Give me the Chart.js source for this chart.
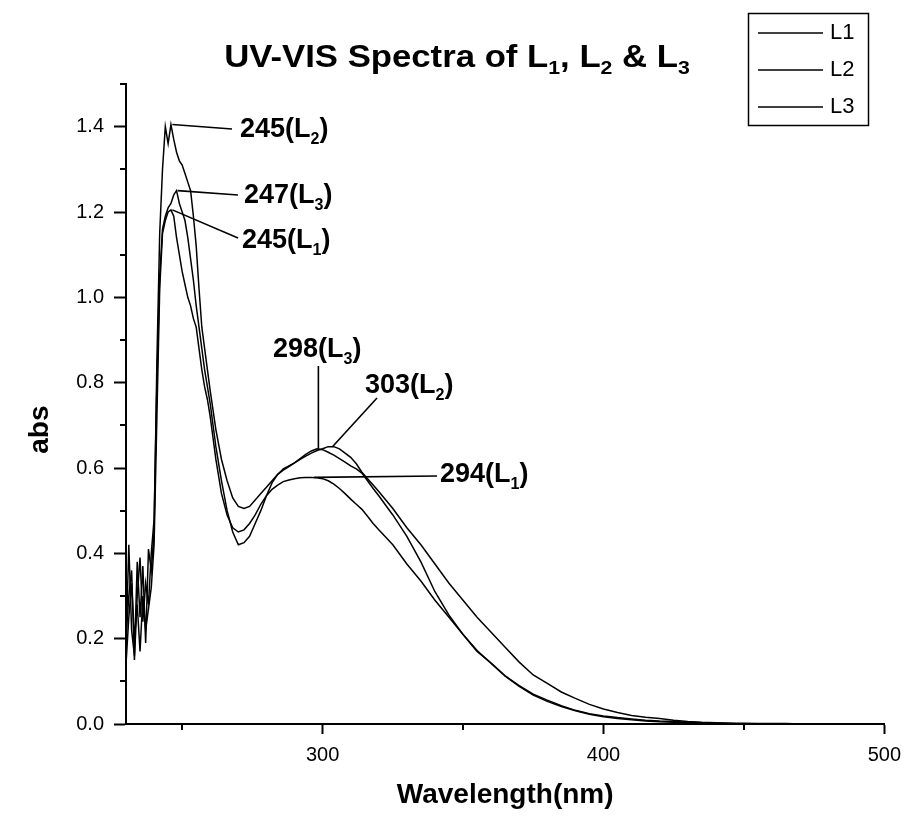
<!DOCTYPE html>
<html>
<head>
<meta charset="utf-8">
<script src="https://cdn.jsdelivr.net/npm/chart.js@4.4.1/dist/chart.umd.min.js"></script>
<style>
  html, body { margin: 0; padding: 0; background: #fff; }
</style>
</head>
<body>
<canvas id="uvChart" width="910" height="817"></canvas>
<script>
// Wavelength grid (nm)
const wavelengths = [
  230, 231, 232, 233, 234, 235, 236, 237, 238, 239,
  240, 241, 242, 243, 244, 245, 246, 247, 248, 249,
  250, 251, 252, 253, 254, 255, 256, 257, 258, 259,
  260, 262, 264, 266, 268, 270, 272, 274, 276, 278,
  280, 282, 284, 286, 288, 290, 292, 294, 296, 298,
  300, 302, 304, 306, 308, 310, 312, 314, 316, 318,
  320, 325, 330, 335, 340, 345, 350, 355, 360, 365,
  370, 375, 380, 385, 390, 395, 400, 405, 410, 415,
  420, 425, 430, 435, 440, 445, 450, 455, 460, 465,
  470, 475, 480, 485, 490, 495, 500
];

// Absorbance
const absL1 = [
  0.14, 0.25, 0.33, 0.20, 0.28, 0.17, 0.30, 0.22, 0.27, 0.32,
  0.42, 0.72, 1.02, 1.15, 1.18, 1.20, 1.205, 1.19, 1.14, 1.10,
  1.06, 1.03, 1.00, 0.98, 0.95, 0.93, 0.88, 0.83, 0.79, 0.76,
  0.72, 0.62, 0.54, 0.49, 0.46, 0.45, 0.455, 0.47, 0.49, 0.515,
  0.535, 0.55, 0.56, 0.568, 0.572, 0.575, 0.577, 0.578, 0.578, 0.577,
  0.575, 0.57, 0.562, 0.552, 0.54, 0.527, 0.515, 0.503, 0.487, 0.47,
  0.455, 0.42, 0.375, 0.335, 0.29, 0.25, 0.21, 0.17, 0.143, 0.113,
  0.09, 0.07, 0.056, 0.043, 0.032, 0.024, 0.019, 0.015, 0.012, 0.009,
  0.007, 0.006, 0.004, 0.003, 0.002, 0.001, 0, 0, 0, 0,
  0, 0, 0, 0, 0, 0, 0
];
const absL2 = [
  0.18, 0.42, 0.22, 0.16, 0.38, 0.25, 0.37, 0.19, 0.41, 0.36,
  0.45, 0.85, 1.15, 1.30, 1.40, 1.36, 1.405, 1.37, 1.34, 1.32,
  1.31, 1.29, 1.27, 1.25, 1.19, 1.12, 1.02, 0.93, 0.88, 0.83,
  0.78, 0.69, 0.62, 0.57, 0.53, 0.51, 0.505, 0.51, 0.525, 0.54,
  0.555, 0.57, 0.585, 0.595, 0.603, 0.612, 0.62, 0.628, 0.635, 0.641,
  0.645, 0.65, 0.65, 0.645, 0.635, 0.625, 0.61, 0.59, 0.575, 0.56,
  0.545, 0.505, 0.46, 0.42, 0.375, 0.33, 0.29, 0.25, 0.215, 0.18,
  0.145, 0.115, 0.095, 0.075, 0.06, 0.046, 0.035, 0.027, 0.02, 0.016,
  0.013, 0.009, 0.006, 0.004, 0.003, 0.002, 0.002, 0.001, 0.001, 0.001,
  0, 0, 0, 0, 0, 0, 0
];
const absL3 = [
  0.20, 0.30, 0.36, 0.15, 0.30, 0.39, 0.24, 0.33, 0.28, 0.40,
  0.48, 0.80, 1.05, 1.16, 1.19, 1.21, 1.22, 1.24, 1.25, 1.22,
  1.20, 1.18, 1.14, 1.09, 1.04, 0.98, 0.93, 0.88, 0.83, 0.79,
  0.75, 0.65, 0.57, 0.50, 0.45, 0.42, 0.425, 0.44, 0.47, 0.50,
  0.535, 0.565, 0.585, 0.598, 0.605, 0.612, 0.622, 0.632, 0.64, 0.645,
  0.643, 0.637, 0.63, 0.622, 0.614, 0.605, 0.598, 0.588, 0.57, 0.552,
  0.535, 0.49, 0.44, 0.38, 0.31, 0.255, 0.21, 0.172, 0.142, 0.112,
  0.088, 0.068, 0.053, 0.041, 0.031, 0.023, 0.017, 0.013, 0.01, 0.007,
  0.005, 0.004, 0.003, 0.002, 0.001, 0.001, 0, 0, 0, 0,
  0, 0, 0, 0, 0, 0, 0
];

const seriesNames = ['L1', 'L2', 'L3'];
const xMinorTicks = [250, 350, 450];
const yMinorTicks = [0.1, 0.3, 0.5, 0.7, 0.9, 1.1, 1.3, 1.5];

// Peak labels: text ("_" = subscript), peak wavelength and absorbance
const peakLabels = ['245(L_2)', '247(L_3)', '245(L_1)', '298(L_3)', '303(L_2)', '294(L_1)'];
const peakX = [246.5, 248.4, 246.5, 298.5, 303.5, 297];
const peakY = [1.405, 1.25, 1.205, 0.645, 0.65, 0.578];

// where each label sits on the page (px)
const labelLayout = [
  { lx: 232, ly: 129, tx: 240, ty: 130 },
  { lx: 238, ly: 195, tx: 244, ty: 196 },
  { lx: 238, ly: 238, tx: 242, ty: 241 },
  { lx: null, ly: 366, tx: 273, ty: 350 },
  { lx: 377, ly: 398, tx: 365, ty: 386 },
  { lx: 437, ly: 476, tx: 440, ty: 475 }
];

const FONT = '"Liberation Sans", Arial, sans-serif';

function toPoints(ys) {
  return wavelengths.map((w, i) => ({ x: w, y: ys[i] }));
}

// draw text with "_x" subscripts, optional horizontal stretch
function drawRich(ctx, str, x, y, size, align, sx) {
  sx = sx || 1;
  const parts = [];
  for (let i = 0; i < str.length; i++) {
    if (str[i] === '_') {
      parts.push({ t: str[i + 1], sub: true });
      i++;
    } else if (parts.length && !parts[parts.length - 1].sub) {
      parts[parts.length - 1].t += str[i];
    } else {
      parts.push({ t: str[i], sub: false });
    }
  }
  const big = 'bold ' + size + 'px ' + FONT;
  const small = 'bold ' + Math.round(size * 0.6) + 'px ' + FONT;
  let total = 0;
  parts.forEach(p => {
    ctx.font = p.sub ? small : big;
    p.w = ctx.measureText(p.t).width;
    total += p.w;
  });
  ctx.save();
  ctx.translate(x, y);
  ctx.scale(sx, 1);
  let cx = align === 'center' ? -total / 2 : 0;
  ctx.textAlign = 'left';
  ctx.textBaseline = 'middle';
  parts.forEach(p => {
    ctx.font = p.sub ? small : big;
    ctx.fillText(p.t, cx, p.sub ? size * 0.36 : 0);
    cx += p.w;
  });
  ctx.restore();
}

const decorPlugin = {
  id: 'decor',
  afterDraw(chart) {
    const ctx = chart.ctx;
    const xs = chart.scales.x;
    const ys = chart.scales.y;
    const area = chart.chartArea;
    ctx.save();
    ctx.fillStyle = '#000';
    ctx.strokeStyle = '#000';

    // minor ticks
    ctx.lineWidth = 2;
    ctx.beginPath();
    xMinorTicks.forEach(v => {
      const px = Math.round(xs.getPixelForValue(v));
      ctx.moveTo(px, area.bottom);
      ctx.lineTo(px, area.bottom + 6);
    });
    yMinorTicks.forEach(v => {
      const py = Math.round(ys.getPixelForValue(v));
      ctx.moveTo(area.left - 6, py);
      ctx.lineTo(area.left, py);
    });
    ctx.stroke();

    // title
    drawRich(ctx, 'UV-VIS Spectra of L_1, L_2 & L_3', 457, 58, 31, 'center', 1.12);

    // axis titles
    drawRich(ctx, 'Wavelength(nm)', (area.left + area.right) / 2, 795, 28, 'center');
    ctx.save();
    ctx.translate(40, ys.getPixelForValue(0.69));
    ctx.rotate(-Math.PI / 2);
    drawRich(ctx, 'abs', 0, 0, 28, 'center');
    ctx.restore();

    // peak labels with leader lines
    ctx.lineWidth = 1.6;
    peakLabels.forEach((txt, i) => {
      const px = xs.getPixelForValue(peakX[i]);
      const py = ys.getPixelForValue(peakY[i]);
      const L = labelLayout[i];
      ctx.beginPath();
      ctx.moveTo(px, py);
      ctx.lineTo(L.lx === null ? px : L.lx, L.ly);
      ctx.stroke();
      drawRich(ctx, txt, L.tx, L.ty, 27, 'left');
    });

    // legend box
    ctx.lineWidth = 1.5;
    ctx.strokeRect(748.5, 13.5, 120, 112);
    chart.data.datasets.forEach((ds, i) => {
      const y = 33 + i * 37;
      ctx.strokeStyle = ds.borderColor;
      ctx.lineWidth = 1.5;
      ctx.beginPath();
      ctx.moveTo(758, y);
      ctx.lineTo(823, y);
      ctx.stroke();
      ctx.font = '22px ' + FONT;
      ctx.textAlign = 'left';
      ctx.textBaseline = 'middle';
      ctx.fillText(ds.label, 830, y);
    });
    ctx.restore();
  }
};

const seriesData = [absL1, absL2, absL3];

new Chart(document.getElementById('uvChart'), {
  type: 'line',
  data: {
    datasets: seriesNames.map((name, i) => ({
      label: name,
      data: toPoints(seriesData[i]),
      borderColor: '#000',
      borderWidth: 1.5,
      pointRadius: 0,
      tension: 0,
      fill: false
    }))
  },
  options: {
    responsive: false,
    animation: false,
    devicePixelRatio: 1,
    layout: { padding: { top: 84, right: 22, left: 0, bottom: 0 } },
    plugins: {
      legend: { display: false },
      title: { display: false },
      tooltip: { enabled: false }
    },
    scales: {
      x: {
        type: 'linear',
        min: 230,
        max: 500,
        ticks: {
          stepSize: 100,
          includeBounds: false,
          autoSkip: false,
          maxRotation: 0,
          color: '#000',
          padding: 9,
          font: { family: FONT, size: 20 }
        },
        grid: { drawOnChartArea: false, tickLength: 10, tickWidth: 2, tickColor: '#000' },
        border: { color: '#000', width: 2 },
        afterFit(scale) { scale.height = 93; }
      },
      y: {
        min: 0,
        max: 1.5,
        ticks: {
          stepSize: 0.2,
          includeBounds: false,
          color: '#000',
          padding: 10,
          font: { family: FONT, size: 20 },
          callback: v => v.toFixed(1)
        },
        grid: { drawOnChartArea: false, tickLength: 12, tickWidth: 2, tickColor: '#000' },
        border: { color: '#000', width: 2 },
        afterFit(scale) { scale.width = 126; }
      }
    }
  },
  plugins: [decorPlugin]
});
</script>
</body>
</html>
